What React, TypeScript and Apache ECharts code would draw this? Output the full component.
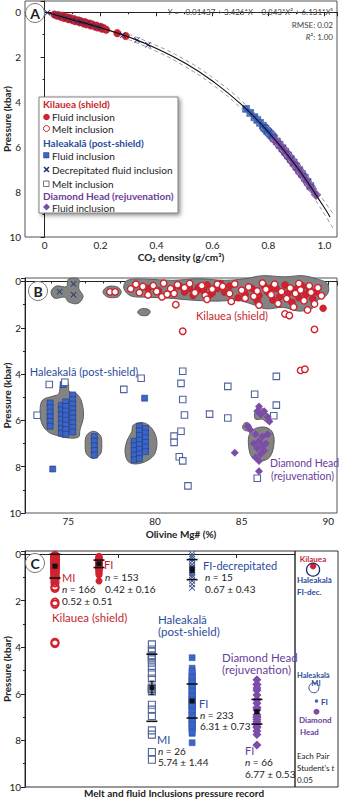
import React, { useEffect, useRef } from 'react';
import * as echarts from 'echarts';

const FONT = 'Lato, "Noto Sans", sans-serif';
const RED = '#d0222f';
const RED_TXT = '#c61f2e';
const BLUE = '#3b66c6';
const BLUE_DARK = '#1f3a86';
const BLUE_TXT = '#2b4b9b';
const PURPLE = '#7b4da8';
const PURPLE_TXT = '#6a3d9a';
const NAVY = '#1e3580';
const OPEN_SQ = '#51659c';
const XMARK = 'path://M0,1L1,0L5,4L9,0L10,1L6,5L10,9L9,10L5,6L1,10L0,9L4,5Z';

// ---------- Panel A : CO2 density vs pressure ----------
const curveA = [[0, -0.01], [0.1, 0.33], [0.2, 0.69], [0.3, 1.1], [0.4, 1.61], [0.5, 2.25], [0.6, 3.06], [0.7, 4.07], [0.8, 5.33], [0.9, 6.86], [1.0, 8.7], [1.02, 9.11]];
const bandUpperA = [[0.3, 0.98], [0.4, 1.48], [0.5, 2.1], [0.6, 2.9], [0.7, 3.9], [0.8, 5.13], [0.9, 6.63], [1.0, 8.42], [1.03, 8.95]];
const bandLowerA = [[0.3, 1.22], [0.4, 1.74], [0.5, 2.4], [0.6, 3.22], [0.7, 4.25], [0.8, 5.52], [0.9, 7.08], [1.0, 8.98], [1.03, 9.6]];
const kilaueaFluidA = [[0.035, 0.1], [0.045, 0.16], [0.05, 0.13], [0.06, 0.21], [0.065, 0.16], [0.07, 0.26], [0.08, 0.22], [0.085, 0.31], [0.09, 0.26], [0.1, 0.36], [0.105, 0.3], [0.11, 0.4], [0.12, 0.36], [0.125, 0.45], [0.13, 0.4], [0.14, 0.5], [0.145, 0.44], [0.15, 0.54], [0.16, 0.5], [0.165, 0.59], [0.17, 0.54], [0.18, 0.64], [0.185, 0.59], [0.19, 0.68], [0.2, 0.65], [0.205, 0.73], [0.21, 0.7], [0.22, 0.78], [0.26, 0.93], [0.29, 1.06]];
const decrepitatedA = [[0.01, 0.02], [0.04, 0.12], [0.06, 0.19], [0.08, 0.26], [0.1, 0.33], [0.12, 0.4], [0.13, 0.43], [0.15, 0.5], [0.17, 0.57], [0.19, 0.65], [0.2, 0.69], [0.28, 1.01], [0.33, 1.24], [0.37, 1.45]];
const haleakalaFluidA = [[0.72, 4.3], [0.735, 4.48], [0.75, 4.67], [0.76, 4.79], [0.77, 4.92], [0.78, 5.05], [0.785, 5.14], [0.79, 5.19], [0.795, 5.28], [0.8, 5.33], [0.805, 5.4], [0.81, 5.47], [0.815, 5.53], [0.82, 5.61], [0.83, 5.75], [0.84, 5.9], [0.85, 6.05], [0.86, 6.21], [0.87, 6.37], [0.88, 6.53], [0.89, 6.69], [0.9, 6.86], [0.91, 7.03], [0.92, 7.2], [0.93, 7.37], [0.94, 7.55], [0.95, 7.74]];
const diamondHeadA = [[0.82, 5.66], [0.83, 5.74], [0.84, 5.95], [0.85, 6.03], [0.855, 6.18], [0.86, 6.2], [0.865, 6.34], [0.87, 6.35], [0.875, 6.5], [0.88, 6.51], [0.885, 6.66], [0.89, 6.68], [0.895, 6.83], [0.9, 6.85], [0.905, 7.0], [0.91, 7.02], [0.915, 7.17], [0.92, 7.19], [0.93, 7.39], [0.94, 7.57], [0.95, 7.75], [0.955, 7.85], [0.97, 8.12]];

// ---------- Panel B : Olivine Mg# vs pressure ----------
const kilaueaFluidB = [[79.6, 0.3], [80.2, 0.4], [81.0, 0.35], [81.4, 0.2], [81.7, 0.45], [82.0, 0.3], [82.2, 0.6], [82.5, 0.25], [82.8, 0.4], [83.0, 0.15], [83.3, 0.5], [83.6, 0.3], [83.8, 0.1], [84.0, 0.45], [84.3, 0.2], [84.8, 0.7], [85.2, 0.55], [85.6, 0.3], [85.9, 0.85], [86.0, 0.6], [86.3, 0.2], [86.5, 0.45], [86.8, 0.8], [87.0, 0.3], [87.2, 0.65], [87.5, 0.15], [87.7, 0.5], [87.9, 0.9], [88.1, 0.35], [88.3, 0.7], [88.5, 0.2], [88.7, 0.55], [88.9, 0.3], [89.1, 0.75], [89.3, 0.45], [89.7, 1.16], [82.4, 0.42], [83.1, 0.62], [86.7, 0.28], [88.2, 0.5]];
const kilaueaMeltB = [[78.6, 0.32], [78.9, 0.12], [79.1, 0.48], [79.3, 0.22], [79.6, 0.58], [79.9, 0.18], [80.1, 0.43], [80.4, 0.66], [80.5, 0.08], [80.9, 0.31], [81.1, 0.52], [81.3, 0.14], [81.7, 0.27], [82.0, 0.09], [82.3, 0.49], [82.7, 0.18], [82.9, 0.6], [83.3, 0.33], [83.6, 0.12], [83.9, 0.21], [84.3, 0.52], [84.6, 0.11], [85.0, 0.38], [85.4, 0.24], [85.7, 0.64], [85.9, 0.41], [86.2, 0.07], [86.4, 0.34], [86.7, 0.57], [86.9, 0.12], [87.3, 0.44], [87.6, 0.74], [87.8, 0.28], [88.1, 0.52], [88.3, 0.09], [88.4, 0.37], [88.6, 0.83], [88.9, 0.19], [89.0, 0.47], [89.2, 0.97], [89.4, 0.27], [89.6, 0.62], [84.4, 0.86], [83.0, 0.77], [86.0, 1.02], [88.8, 1.23], [87.1, 0.95], [88.0, 1.1], [85.2, 0.72], [80.7, 0.55], [77.4, 0.45], [77.7, 0.45], [81.2, 1.0], [81.6, 2.15], [87.5, 1.4], [87.75, 1.47], [89.2, 2.07], [88.4, 3.84], [88.65, 3.79]];
const decrepitatedB = [[74.5, 0.44], [75.3, 0.1], [75.3, 0.57]];
const haleakalaFluidB = [[73.95, 5.25], [73.95, 5.45], [73.95, 5.65], [73.95, 5.85], [73.95, 6.05], [73.95, 6.25], [74.6, 5.35], [74.6, 5.55], [74.6, 5.75], [74.6, 5.95], [74.6, 6.15], [74.6, 6.35], [74.6, 6.55], [74.85, 5.2], [74.85, 5.4], [74.85, 5.6], [74.85, 5.8], [74.85, 6.0], [74.85, 6.2], [74.85, 6.4], [74.85, 6.6], [75.25, 4.9], [75.25, 5.1], [75.25, 5.3], [75.25, 5.5], [75.25, 5.7], [75.25, 5.9], [75.25, 6.1], [75.25, 6.3], [75.25, 6.5], [74.7, 4.45], [76.5, 6.7], [76.5, 6.9], [76.5, 7.1], [76.5, 7.3], [76.5, 7.5], [78.8, 6.9], [78.8, 7.1], [78.8, 7.3], [78.8, 7.5], [78.8, 7.7], [79.1, 6.25], [79.1, 6.45], [79.1, 6.65], [79.1, 6.85], [79.1, 7.05], [79.1, 7.25], [79.1, 7.45], [79.1, 7.65], [79.45, 6.35], [79.45, 6.55], [79.45, 6.75], [79.45, 6.95], [79.45, 7.15], [79.45, 7.35], [74.1, 8.1], [79.4, 5.04]];
const haleakalaMeltB = [[73.9, 4.45], [74.8, 4.35], [78.2, 4.66], [79.2, 4.18], [81.6, 3.88], [81.5, 4.4], [81.6, 5.1], [84.2, 4.53], [85.75, 4.87], [87.0, 4.1], [87.0, 5.34], [73.2, 5.78], [81.7, 5.77], [83.15, 5.73], [84.2, 5.9], [81.5, 6.47], [81.1, 6.68], [81.1, 6.95], [81.4, 7.57], [81.6, 7.75], [81.9, 8.83], [85.9, 8.5], [86.85, 5.8]];
const diamondHeadB = [[86.0, 5.4], [85.9, 5.6], [86.1, 5.75], [86.3, 5.6], [86.5, 5.85], [86.6, 6.05], [85.35, 6.25], [85.5, 6.4], [84.6, 7.4], [85.8, 6.6], [86.0, 6.9], [86.2, 6.7], [86.4, 7.0], [85.9, 7.2], [86.1, 7.45], [86.3, 7.3], [85.8, 7.6], [86.0, 7.75], [86.0, 8.2], [86.5, 6.6], [85.7, 7.0], [86.2, 7.1]];
const blobsB = [
  [[78.2, 0.3], [78.4, -0.05], [79.5, -0.1], [81.0, -0.05], [82.5, -0.12], [84.0, -0.05], [85.2, -0.12], [86.2, -0.25], [87.5, -0.2], [88.5, -0.25], [89.3, -0.12], [89.95, 0.1], [89.95, 0.55], [89.4, 0.8], [89.1, 1.15], [88.3, 1.28], [87.4, 1.12], [86.4, 1.18], [85.6, 0.98], [84.8, 0.82], [83.5, 0.85], [82.0, 0.8], [80.8, 0.72], [79.5, 0.68], [78.6, 0.62]],
  [[77.0, 0.45], [77.2, 0.25], [77.55, 0.2], [77.9, 0.27], [78.05, 0.45], [77.9, 0.65], [77.55, 0.7], [77.2, 0.65]],
  [[79.0, 1.32], [79.15, 1.2], [79.4, 1.17], [79.65, 1.22], [79.72, 1.32], [79.6, 1.45], [79.35, 1.48], [79.1, 1.43]],
  [[74.0, 0.45], [74.3, 0.2], [74.9, 0.22], [75.0, -0.1], [75.6, -0.1], [75.6, 0.3], [75.85, 0.65], [75.55, 0.95], [75.0, 0.88], [74.8, 0.68], [74.2, 0.72]],
  [[73.37, 5.55], [73.52, 5.12], [74.13, 4.95], [74.45, 4.85], [74.55, 4.45], [74.75, 4.25], [75.0, 4.4], [75.05, 4.75], [75.48, 4.85], [75.77, 5.2], [75.87, 5.84], [75.67, 6.41], [75.58, 6.72], [74.9, 6.75], [74.33, 6.65], [73.85, 6.5], [73.47, 6.13]],
  [[76.45, 6.47], [76.85, 6.65], [76.93, 7.05], [76.85, 7.45], [76.45, 7.64], [76.05, 7.45], [75.97, 7.05], [76.05, 6.65]],
  [[78.75, 6.2], [79.33, 6.1], [79.81, 6.34], [80.1, 6.85], [80.0, 7.42], [79.62, 7.71], [78.95, 7.88], [78.46, 7.78], [78.27, 7.35], [78.4, 6.85], [78.66, 6.49]],
  [[85.75, 5.7], [85.95, 5.45], [86.2, 5.5], [86.5, 5.75], [86.7, 6.0], [86.5, 6.1], [86.2, 5.95], [85.8, 5.95]],
  [[85.05, 6.28], [85.2, 6.1], [85.45, 6.15], [85.55, 6.35], [85.4, 6.45], [85.15, 6.42]],
  [[85.45, 6.6], [85.8, 6.35], [86.4, 6.3], [86.8, 6.55], [86.85, 7.1], [86.6, 7.6], [86.1, 7.75], [85.6, 7.6], [85.4, 7.1]],
];

// ---------- Panel C : pressure record per group ----------
const decrepitatedC = [0.0, 0.1, 0.2, 0.3, 0.45, 0.55, 0.6, 0.7, 0.75, 0.8, 0.9, 1.0, 1.15, 1.3, 1.45];
const groupMean = [0.52, 0.42, 0.67, 5.74, 6.31, 6.77];
const groupSD = [0.51, 0.16, 0.43, 1.44, 0.73, 0.53];
const groupSE = [0.04, 0.013, 0.11, 0.28, 0.05, 0.065];
const groupN = [166, 153, 15, 26, 233, 66];
const groupPos = [0.111, 0.274, 0.619, 0.47, 0.619, 0.859];
const compMean = [0.52, 0.67, 5.74, 6.31, 6.77];
const compSize = [6, 13, 10, 3.5, 6];
const compPos = [0.42, 0.42, 0.44, 0.5, 0.5];

const yName = { name: 'Pressure (kbar)', nameLocation: 'middle', nameGap: 13, nameMoveOverlap: false, nameTextStyle: { fontFamily: FONT, fontWeight: 'bold', fontSize: 10, color: '#222' } };
const axLine = { show: true, lineStyle: { color: '#222', width: 1 } };
const axTick = { show: true, length: 4, lineStyle: { color: '#222' } };
const minor = { show: true, splitNumber: 2, length: 2, lineStyle: { color: '#222' } };
const lbl = { fontFamily: FONT, fontSize: 10, color: '#222', margin: 4 };

function yAxisFor(grid: number, min: number, show = true) {
  return {
    type: 'value', gridIndex: grid, inverse: true, min, max: 10, splitNumber: 5, show,
    ...(show ? yName : {}),
    axisLine: axLine, axisTick: axTick, minorTick: minor, splitLine: { show: false }, minorSplitLine: { show: false },
    axisLabel: { ...lbl, showMinLabel: false },
  };
}

function txt(x: number, y: number, text: string, o: any = {}) {
  return {
    type: 'text', x, y, silent: true, z: 100,
    style: {
      text, fill: o.color || '#222',
      font: `${o.italic ? 'italic' : 'normal'} ${o.weight || 'normal'} ${o.size || 10}px ${FONT}`,
      align: o.align || 'left', verticalAlign: 'middle', rich: o.rich,
    },
  };
}
const it = (size: number, color = '#222') => ({
  i: { fontStyle: 'italic', fontSize: size, fontFamily: FONT, fill: color, color },
  n: { fontStyle: 'normal', fontSize: size, fontFamily: FONT, fill: color, color },
});

function panelLabel(cx: number, cy: number, t: string) {
  return [
    { type: 'circle', z: 99, silent: true, shape: { cx, cy, r: 9.5 }, style: { fill: '#fff', stroke: '#777', lineWidth: 1 } },
    txt(cx, cy + 0.5, t, { weight: 'bold', size: 14, align: 'center' }),
  ];
}

export default function App() {
  const ref = useRef<HTMLDivElement>(null);
  useEffect(() => {
    document.body.style.margin = '0';
    const chart = echarts.init(ref.current!, null, { renderer: 'svg' });

    const colData = (arr: number[], pos: number) => arr.map((p) => [pos, p]);
    const statsData = groupPos.map((x, i) => [x, groupMean[i], groupSD[i], groupSE[i]]);

    const legend: any[] = [
      { type: 'rect', z: 90, silent: true, shape: { x: 39, y: 97, width: 139, height: 116 }, style: { fill: '#fff', stroke: '#666', lineWidth: 0.8, shadowBlur: 4, shadowOffsetX: 2, shadowOffsetY: 2, shadowColor: 'rgba(0,0,0,0.45)' } },
      txt(43, 104, 'Kilauea (shield)', { weight: 'bold', color: RED_TXT }),
      { type: 'circle', z: 100, silent: true, shape: { cx: 46.5, cy: 117, r: 3.3 }, style: { fill: RED } },
      txt(52, 117, 'Fluid inclusion'),
      { type: 'circle', z: 100, silent: true, shape: { cx: 46.5, cy: 128.5, r: 3 }, style: { fill: '#fff', stroke: RED, lineWidth: 1 } },
      txt(52, 128.5, 'Melt inclusion'),
      txt(43, 143, 'Haleakalā (post-shield)', { weight: 'bold', color: BLUE_TXT }),
      { type: 'rect', z: 100, silent: true, shape: { x: 43.5, y: 152.5, width: 5.5, height: 5.5 }, style: { fill: BLUE, stroke: BLUE_DARK, lineWidth: 0.5 } },
      txt(52, 155.5, 'Fluid inclusion'),
      { type: 'line', z: 100, silent: true, shape: { x1: 44, y1: 167, x2: 49, y2: 172 }, style: { stroke: NAVY, lineWidth: 1.6 } },
      { type: 'line', z: 100, silent: true, shape: { x1: 49, y1: 167, x2: 44, y2: 172 }, style: { stroke: NAVY, lineWidth: 1.6 } },
      txt(52, 169.5, 'Decrepitated fluid inclusion'),
      { type: 'rect', z: 100, silent: true, shape: { x: 43.5, y: 181, width: 5.5, height: 5.5 }, style: { fill: '#fff', stroke: '#555', lineWidth: 0.8 } },
      txt(52, 184, 'Melt inclusion'),
      txt(43, 195.5, 'Diamond Head (rejuvenation)', { weight: 'bold', color: PURPLE_TXT }),
      { type: 'polygon', z: 100, silent: true, shape: { points: [[46.5, 203.5], [50, 207], [46.5, 210.5], [43, 207]] }, style: { fill: PURPLE } },
      txt(52, 207.5, 'Fluid inclusion'),
    ];

    const texts: any[] = [
      ...panelLabel(35, 13, 'A'),
      ...panelLabel(38, 291, 'B'),
      ...panelLabel(35, 563, 'C'),
      txt(333, 12, '{i|Y}{n| = −0.01437 + 3.426*}{i|X}{n| − 0.843*}{i|X}{n|² + 6.131*}{i|X}{n|³}', { size: 8, color: '#444', align: 'right', rich: it(8, '#444') }),
      txt(333, 25, 'RMSE: 0.02', { size: 8, color: '#444', align: 'right' }),
      txt(333, 37, '{i|R}{n|²: 1.00}', { size: 8, color: '#444', align: 'right', rich: it(8, '#444') }),
      // panel B labels
      txt(232, 315, 'Kilauea (shield)', { size: 11, color: RED_TXT, align: 'center' }),
      txt(84, 371, 'Haleakalā (post-shield)', { size: 11, color: BLUE_TXT, align: 'center' }),
      txt(270, 463, 'Diamond Head', { size: 10.5, color: PURPLE_TXT }),
      txt(271, 475.5, '(rejuvenation)', { size: 10.5, color: PURPLE_TXT }),
      // panel C labels
      txt(62, 577, 'MI', { size: 11, color: RED_TXT }),
      txt(62, 589, `{i|n}{n| = ${groupN[0]}}`, { size: 10, rich: it(10) }),
      txt(62, 601, `${groupMean[0].toFixed(2)} ± ${groupSD[0].toFixed(2)}`, { size: 10 }),
      txt(104, 564.5, 'FI', { size: 11, color: RED_TXT }),
      txt(105, 577, `{i|n}{n| = ${groupN[1]}}`, { size: 10, rich: it(10) }),
      txt(105, 588.5, `${groupMean[1].toFixed(2)} ± ${groupSD[1].toFixed(2)}`, { size: 10 }),
      txt(52, 617, 'Kilauea (shield)', { size: 11.5, color: RED_TXT }),
      txt(203, 565, 'FI-decrepitated', { size: 11, color: BLUE_TXT }),
      txt(205, 577, `{i|n}{n| = ${groupN[2]}}`, { size: 10, rich: it(10) }),
      txt(205, 588.5, `${groupMean[2].toFixed(2)} ± ${groupSD[2].toFixed(2)}`, { size: 10 }),
      txt(158, 619, 'Haleakalā', { size: 11.5, color: BLUE_TXT }),
      txt(158, 631, '(post-shield)', { size: 11.5, color: BLUE_TXT }),
      txt(222, 657.5, 'Diamond Head', { size: 11.5, color: PURPLE_TXT }),
      txt(222, 669.5, '(rejuvenation)', { size: 11.5, color: PURPLE_TXT }),
      txt(157, 739.5, 'MI', { size: 11, color: BLUE_TXT }),
      txt(158, 750.5, `{i|n}{n| = ${groupN[3]}}`, { size: 10, rich: it(10) }),
      txt(158, 762, `${groupMean[3].toFixed(2)} ± ${groupSD[3].toFixed(2)}`, { size: 10 }),
      txt(199, 703, 'FI', { size: 11, color: BLUE_TXT }),
      txt(200, 714.5, `{i|n}{n| = ${groupN[4]}}`, { size: 10, rich: it(10) }),
      txt(200, 726, `${groupMean[4].toFixed(2)} ± ${groupSD[4].toFixed(2)}`, { size: 10 }),
      txt(245, 750.5, 'FI', { size: 11, color: PURPLE_TXT }),
      txt(245, 762, `{i|n}{n| = ${groupN[5]}}`, { size: 10, rich: it(10) }),
      txt(245, 773.5, `${groupMean[5].toFixed(2)} ± ${groupSD[5].toFixed(2)}`, { size: 10 }),
      txt(174, 793, 'Melt and fluid Inclusions pressure record', { size: 10, weight: 'bold', align: 'center' }),
      // comparison sub-panel
      txt(313, 558.5, 'Kilauea', { size: 8, weight: 'bold', color: RED_TXT, align: 'center' }),
      txt(297, 580, 'Haleakalā', { size: 8, weight: 'bold', color: BLUE_TXT }),
      txt(297, 592, 'FI-dec.', { size: 8, weight: 'bold', color: BLUE_TXT }),
      txt(297, 675.5, 'Haleakalā', { size: 7.5, weight: 'bold', color: BLUE_TXT }),
      txt(316, 683.5, 'MI', { size: 7.5, weight: 'bold', color: BLUE_TXT, align: 'center' }),
      txt(321, 701.5, 'FI', { size: 8, weight: 'bold', color: BLUE_TXT }),
      txt(299, 720, 'Diamond', { size: 8, weight: 'bold', color: PURPLE_TXT }),
      txt(300, 731.5, 'Head', { size: 8, weight: 'bold', color: PURPLE_TXT }),
      txt(297, 756, 'Each Pair', { size: 8 }),
      txt(297, 768, "{n|Student's }{i|t}", { size: 8, rich: it(8) }),
      txt(297, 780, '0.05', { size: 8 }),
    ];

    const option: any = {
      animation: false,
      textStyle: { fontFamily: FONT },
      grid: [
        { left: 25, top: 1, width: 312, height: 236, show: true, borderColor: '#555', borderWidth: 1, outerBoundsMode: 'none' },
        { left: 25, top: 278, width: 312, height: 235, show: true, borderColor: '#555', borderWidth: 1, outerBoundsMode: 'none' },
        { left: 25, top: 551, width: 270, height: 236, show: true, borderColor: '#333', borderWidth: 1, outerBoundsMode: 'none' },
        { left: 295, top: 551, width: 43, height: 236, show: true, borderColor: '#333', borderWidth: 1, outerBoundsMode: 'none' },
      ],
      xAxis: [
        {
          type: 'value', gridIndex: 0, min: -0.07, max: 1.045, splitNumber: 5,
          name: 'CO₂ density (g/cm³)', nameLocation: 'middle', nameGap: 15, nameMoveOverlap: false,
          nameTextStyle: { fontFamily: FONT, fontWeight: 'bold', fontSize: 10, color: '#222' },
          axisLine: axLine, axisTick: axTick, minorTick: minor, splitLine: { show: false },
          axisLabel: { ...lbl, margin: 3, showMinLabel: false, showMaxLabel: false, formatter: (v: number) => (v === 0 ? '0' : v.toFixed(1)) },
        },
        {
          type: 'value', gridIndex: 1, min: 72.5, max: 90.5, splitNumber: 4,
          name: 'Olivine Mg# (%)', nameLocation: 'middle', nameGap: 16, nameMoveOverlap: false,
          nameTextStyle: { fontFamily: FONT, fontWeight: 'bold', fontSize: 10, color: '#222' },
          axisLine: axLine, axisTick: axTick, minorTick: { ...minor, splitNumber: 5 }, splitLine: { show: false },
          axisLabel: { ...lbl, margin: 3, showMinLabel: false, showMaxLabel: false },
        },
        {
          type: 'value', gridIndex: 2, min: 0, max: 1,
          axisLine: axLine, axisTick: { ...axTick, customValues: [0.344, 0.781] }, splitLine: { show: false },
          axisLabel: { show: false },
        },
        { type: 'value', gridIndex: 3, min: 0, max: 1, show: false },
      ],
      yAxis: [yAxisFor(0, -0.5), yAxisFor(1, -0.15), yAxisFor(2, -0.13), yAxisFor(3, -0.13, false)],
      graphic: { elements: [...legend, ...texts] },
      series: [
        // ---- A ----
        { type: 'line', xAxisIndex: 0, yAxisIndex: 0, data: bandUpperA, smooth: true, symbol: 'none', silent: true, lineStyle: { color: '#9a9a9a', width: 1, type: [4, 3] } },
        { type: 'line', xAxisIndex: 0, yAxisIndex: 0, data: bandLowerA, smooth: true, symbol: 'none', silent: true, lineStyle: { color: '#9a9a9a', width: 1, type: [4, 3] } },
        { type: 'line', xAxisIndex: 0, yAxisIndex: 0, data: curveA, smooth: true, symbol: 'none', silent: true, lineStyle: { color: '#111', width: 1.1 } },
        { type: 'scatter', xAxisIndex: 0, yAxisIndex: 0, data: kilaueaFluidA, symbol: 'circle', symbolSize: 7.5, silent: true, itemStyle: { color: RED, borderColor: '#a8131f', borderWidth: 0.4, opacity: 1 } },
        { type: 'scatter', xAxisIndex: 0, yAxisIndex: 0, data: decrepitatedA, symbol: XMARK, symbolSize: 6, silent: true, itemStyle: { color: NAVY, opacity: 1 } },
        { type: 'scatter', xAxisIndex: 0, yAxisIndex: 0, data: haleakalaFluidA, symbol: 'rect', symbolSize: 7, silent: true, itemStyle: { color: BLUE, borderColor: BLUE_DARK, borderWidth: 0.4, opacity: 1 } },
        { type: 'scatter', xAxisIndex: 0, yAxisIndex: 0, data: diamondHeadA, symbol: 'diamond', symbolSize: 10, silent: true, itemStyle: { color: PURPLE, borderColor: '#5a3384', borderWidth: 0.3, opacity: 1 } },
        // ---- B ----
        {
          type: 'custom', xAxisIndex: 1, yAxisIndex: 1, silent: true, clip: false,
          data: blobsB.map((b) => b[0]),
          renderItem: (params: any, api: any) => {
            const poly = blobsB[params.dataIndex];
            return { type: 'polygon', shape: { points: poly.map((p) => api.coord(p)), smooth: 0.35 }, style: { fill: '#838383', stroke: '#5e5e5e', lineWidth: 1 } };
          },
        },
        { type: 'scatter', xAxisIndex: 1, yAxisIndex: 1, data: kilaueaFluidB, symbol: 'circle', symbolSize: 7, silent: true, itemStyle: { color: RED, borderColor: '#a8131f', borderWidth: 0.4, opacity: 1 } },
        { type: 'scatter', xAxisIndex: 1, yAxisIndex: 1, data: kilaueaMeltB, symbol: 'circle', symbolSize: 6.5, silent: true, itemStyle: { color: '#fff', borderColor: RED, borderWidth: 1.4, opacity: 1 } },
        { type: 'scatter', xAxisIndex: 1, yAxisIndex: 1, data: decrepitatedB, symbol: XMARK, symbolSize: 6, silent: true, itemStyle: { color: NAVY, opacity: 1 } },
        { type: 'scatter', xAxisIndex: 1, yAxisIndex: 1, data: haleakalaFluidB, symbol: 'rect', symbolSize: 6, silent: true, itemStyle: { color: BLUE, borderColor: BLUE_DARK, borderWidth: 0.6, opacity: 1 } },
        { type: 'scatter', xAxisIndex: 1, yAxisIndex: 1, data: haleakalaMeltB, symbol: 'rect', symbolSize: 6.5, silent: true, itemStyle: { color: '#fff', borderColor: OPEN_SQ, borderWidth: 1.1, opacity: 1 } },
        { type: 'scatter', xAxisIndex: 1, yAxisIndex: 1, data: diamondHeadB, symbol: 'diamond', symbolSize: 8, silent: true, itemStyle: { color: PURPLE, opacity: 1 } },
        // ---- C ----
        { type: 'scatter', xAxisIndex: 2, yAxisIndex: 2, data: colData(kilaueaMeltB.map((p) => p[1]), groupPos[0]), symbol: 'circle', symbolSize: 7.5, silent: true, itemStyle: { color: 'rgba(255,255,255,0)', borderColor: RED, borderWidth: 1.8, opacity: 1 } },
        { type: 'scatter', xAxisIndex: 2, yAxisIndex: 2, data: colData(kilaueaFluidB.map((p) => p[1]), groupPos[1]), symbol: 'circle', symbolSize: 7, silent: true, itemStyle: { color: RED, opacity: 1 } },
        { type: 'scatter', xAxisIndex: 2, yAxisIndex: 2, data: colData(decrepitatedC, groupPos[2]), symbol: XMARK, symbolSize: 6.5, silent: true, itemStyle: { color: '#3d5294', opacity: 1 } },
        { type: 'scatter', xAxisIndex: 2, yAxisIndex: 2, data: colData(haleakalaMeltB.map((p) => p[1]), groupPos[3]), symbol: 'rect', symbolSize: 7, silent: true, itemStyle: { color: 'rgba(255,255,255,0)', borderColor: OPEN_SQ, borderWidth: 1.1, opacity: 1 } },
        { type: 'scatter', xAxisIndex: 2, yAxisIndex: 2, data: colData(haleakalaFluidB.map((p) => p[1]), groupPos[4]), symbol: 'rect', symbolSize: 6, silent: true, itemStyle: { color: BLUE, borderColor: '#2d55ad', borderWidth: 0.5, opacity: 1 } },
        { type: 'scatter', xAxisIndex: 2, yAxisIndex: 2, data: colData(diamondHeadB.map((p) => p[1]), groupPos[5]), symbol: 'diamond', symbolSize: 9, silent: true, itemStyle: { color: PURPLE, opacity: 1 } },
        {
          type: 'custom', xAxisIndex: 2, yAxisIndex: 2, silent: true, clip: false, z: 5,
          data: statsData,
          renderItem: (_p: any, api: any) => {
            const x = api.value(0), m = api.value(1), sd = api.value(2), se = api.value(3);
            const pm = api.coord([x, m]);
            const pt = api.coord([x, m - sd]);
            const pb = api.coord([x, m + sd]);
            const st = api.coord([x, m - se]);
            const sb = api.coord([x, m + se]);
            const hw = 5.5;
            const s = { stroke: '#111', lineWidth: 1.6 };
            const s2 = { stroke: '#111', lineWidth: 1.2 };
            return {
              type: 'group',
              children: [
                { type: 'line', shape: { x1: pt[0] - hw, y1: pt[1], x2: pt[0] + hw, y2: pt[1] }, style: s },
                { type: 'line', shape: { x1: pb[0] - hw, y1: pb[1], x2: pb[0] + hw, y2: pb[1] }, style: s },
                { type: 'line', shape: { x1: pm[0], y1: st[1], x2: pm[0], y2: sb[1] }, style: s2 },
                { type: 'line', shape: { x1: pm[0] - 2.5, y1: st[1], x2: pm[0] + 2.5, y2: st[1] }, style: s2 },
                { type: 'line', shape: { x1: pm[0] - 2.5, y1: sb[1], x2: pm[0] + 2.5, y2: sb[1] }, style: s2 },
                { type: 'rect', shape: { x: pm[0] - 2.5, y: pm[1] - 2.5, width: 5, height: 5 }, style: { fill: '#111' } },
              ],
            };
          },
        },
        // comparison circles
        {
          type: 'scatter', xAxisIndex: 3, yAxisIndex: 3, silent: true,
          data: compMean.map((m, i) => ({
            value: [compPos[i], m],
            symbolSize: compSize[i],
            itemStyle: [
              { color: RED, borderColor: RED, borderWidth: 0.5 },
              { color: 'rgba(0,0,0,0)', borderColor: '#1c2f6b', borderWidth: 1.3 },
              { color: '#fff', borderColor: '#2b3f7a', borderWidth: 0.9 },
              { color: BLUE, borderColor: BLUE, borderWidth: 0 },
              { color: PURPLE, borderColor: PURPLE, borderWidth: 0 },
            ][i],
          })),
          symbol: 'circle',
          itemStyle: { opacity: 1 },
        },
      ],
    };
    chart.setOption(option);
    return () => chart.dispose();
  }, []);
  return <div ref={ref} style={{ width: 339, height: 799 }} />;
}
